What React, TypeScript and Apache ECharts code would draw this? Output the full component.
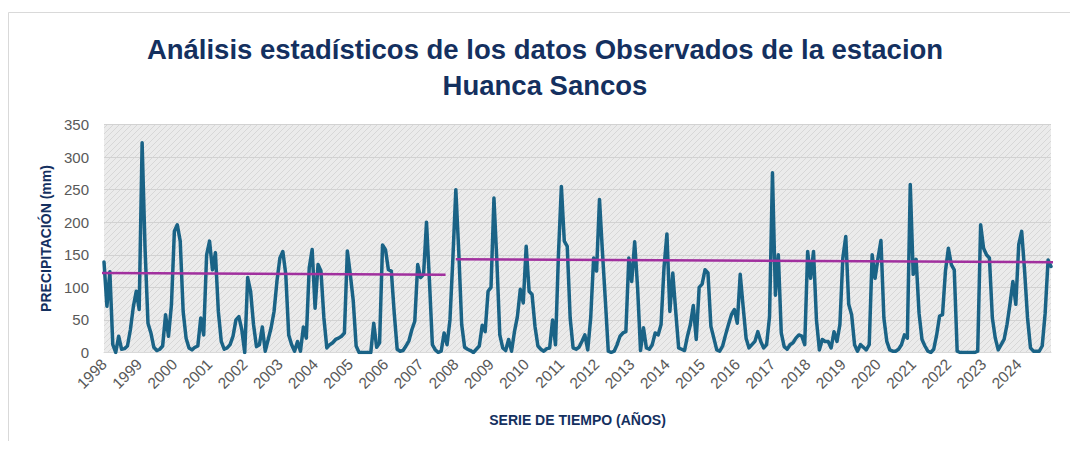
import React, { useEffect, useRef } from "react";
import * as echarts from "echarts";

const years = [
  1998, 1999, 2000, 2001, 2002, 2003, 2004, 2005, 2006, 2007, 2008, 2009, 2010,
  2011, 2012, 2013, 2014, 2015, 2016, 2017, 2018, 2019, 2020, 2021, 2022, 2023, 2024,
];
const months = ["01", "02", "03", "04", "05", "06", "07", "08", "09", "10", "11", "12"];

// Monthly precipitation (mm), Jan 1998 .. Dec 2024
const precipitation = [
  139, 71, 124, 12, 0, 25, 5, 6, 10, 35, 70, 94, // 1998
  66, 322, 160, 45, 30, 8, 3, 5, 10, 58, 25, 73, // 1999
  186, 196, 171, 63, 22, 7, 4, 8, 10, 53, 27, 150, // 2000
  171, 127, 153, 63, 17, 5, 7, 12, 25, 50, 55, 35, // 2001
  0, 115, 94, 43, 9, 12, 39, 2, 20, 38, 63, 110, // 2002
  145, 155, 120, 27, 12, 2, 17, 2, 39, 22, 130, 158, // 2003
  68, 135, 125, 53, 7, 12, 15, 20, 22, 25, 30, 156, // 2004
  120, 80, 10, 0, 0, 0, 0, 0, 45, 8, 15, 165, // 2005
  158, 127, 125, 60, 5, 2, 3, 10, 18, 35, 48, 135, // 2006
  115, 120, 200, 110, 12, 4, 0, 2, 30, 12, 50, 145, // 2007
  250, 155, 43, 8, 5, 3, 0, 5, 10, 42, 32, 94, // 2008
  100, 237, 140, 27, 7, 3, 20, 2, 32, 55, 97, 76, // 2009
  163, 94, 89, 40, 10, 5, 2, 6, 7, 50, 12, 150, // 2010
  255, 171, 163, 53, 7, 5, 8, 17, 27, 4, 53, 145, // 2011
  125, 235, 155, 80, 2, 0, 2, 12, 25, 30, 32, 145, // 2012
  109, 170, 99, 3, 38, 7, 5, 12, 30, 27, 43, 130, // 2013
  182, 63, 122, 63, 7, 5, 3, 25, 43, 72, 20, 100, // 2014
  105, 127, 122, 40, 22, 4, 2, 10, 27, 43, 58, 66, // 2015
  45, 120, 70, 22, 7, 12, 17, 32, 17, 7, 12, 55, // 2016
  276, 88, 150, 30, 9, 5, 12, 15, 22, 27, 25, 12, // 2017
  155, 114, 155, 50, 4, 20, 17, 17, 7, 32, 17, 43, // 2018
  145, 178, 74, 58, 12, 2, 12, 8, 4, 12, 150, 114, // 2019
  145, 172, 53, 17, 4, 2, 2, 5, 12, 27, 22, 258, // 2020
  120, 143, 60, 20, 10, 2, 0, 5, 27, 56, 58, 125, // 2021
  160, 135, 127, 2, 0, 0, 0, 0, 0, 0, 2, 196, // 2022
  160, 150, 145, 53, 22, 4, 12, 20, 43, 74, 109, 74, // 2023
  166, 186, 125, 53, 7, 2, 2, 2, 10, 60, 142, 132, // 2024
];

// Average / trend lines of the two periods (x in month index units)
const meanPeriod1X = [-3, 116.5];
const meanPeriod1Y = [122, 119.5];
const meanPeriod2X = [120, 325.5];
const meanPeriod2Y = [143, 138.5];

const yTicks = { min: 0, max: 350, interval: 50 };

const categories: string[] = [];
years.forEach((y) => months.forEach((m) => categories.push(`${y}-${m}`)));

const NAVY = "#14305f";

function makePattern(): string {
  const c = document.createElement("canvas");
  c.width = 6;
  c.height = 6;
  const ctx = c.getContext("2d");
  if (!ctx) return "";
  ctx.fillStyle = "#ebebeb";
  ctx.fillRect(0, 0, 6, 6);
  ctx.strokeStyle = "#d7d7d7";
  ctx.lineWidth = 1;
  ctx.beginPath();
  ctx.moveTo(-1, 7);
  ctx.lineTo(7, -1);
  ctx.moveTo(-1, 1);
  ctx.lineTo(1, -1);
  ctx.moveTo(5, 7);
  ctx.lineTo(7, 5);
  ctx.stroke();
  return c.toDataURL();
}

export default function App() {
  const ref = useRef<HTMLDivElement>(null);
  useEffect(() => {
    if (!ref.current) return;
    const chart = echarts.init(ref.current, null, { renderer: "svg" });
    const patternSrc = makePattern();
    const bg: any = patternSrc ? { image: patternSrc, repeat: "repeat" } : "#e4e4e4";
    chart.setOption({
      animation: false,
      backgroundColor: "#ffffff",
      title: {
        text: "Análisis estadísticos de los datos Observados de la estacion\nHuanca Sancos",
        left: 532,
        top: 18,
        textAlign: "center",
        textStyle: {
          fontFamily: "Liberation Sans, Arial, sans-serif",
          fontWeight: "bold",
          fontSize: 27.5,
          lineHeight: 36,
          color: NAVY,
        },
      },
      graphic: [
        {
          type: "rect",
          shape: { x: 0.5, y: 4.5, width: 1200, height: 600 },
          style: { fill: "none", stroke: "#d9d9d9", lineWidth: 1 },
          silent: true,
          z: -10,
        },
      ],
      grid: {
        show: true,
        left: 96,
        right: 19,
        top: 116.5,
        bottom: 88.5,
        backgroundColor: bg,
        borderWidth: 0,
      },
      xAxis: [
        {
          type: "category",
          data: categories,
          boundaryGap: false,
          name: "SERIE DE TIEMPO (AÑOS)",
          nameLocation: "middle",
          nameGap: 60,
          nameTextStyle: {
            fontFamily: "Liberation Sans, Arial, sans-serif",
            fontWeight: "bold",
            fontSize: 14,
            color: NAVY,
          },
          axisLine: { show: true, lineStyle: { color: "#d9d9d9", width: 1 } },
          axisTick: { show: false },
          splitLine: { show: false },
          axisLabel: {
            interval: 11,
            rotate: 45,
            margin: 9,
            fontFamily: "Liberation Sans, Arial, sans-serif",
            fontSize: 15.5,
            color: "#595959",
            formatter: (v: string) => v.slice(0, 4),
          },
        },
        {
          type: "value",
          min: 0,
          max: precipitation.length - 1,
          show: false,
          splitLine: { show: false },
        },
      ],
      yAxis: {
        type: "value",
        min: yTicks.min,
        max: yTicks.max,
        interval: yTicks.interval,
        name: "PRECIPITACIÓN (mm)",
        nameLocation: "middle",
        nameGap: 51,
        nameTextStyle: {
          fontFamily: "Liberation Sans, Arial, sans-serif",
          fontWeight: "bold",
          fontSize: 14,
          color: NAVY,
        },
        axisLine: { show: false },
        axisTick: { show: false },
        axisLabel: {
          margin: 15,
          fontFamily: "Liberation Sans, Arial, sans-serif",
          fontSize: 15,
          color: "#595959",
        },
        splitLine: { show: true, lineStyle: { color: "#d2d2d2", width: 1 } },
      },
      series: [
        {
          type: "line",
          name: "Precipitación",
          data: precipitation,
          showSymbol: false,
          symbol: "none",
          lineStyle: { color: "#1a6386", width: 3.5, join: "round", cap: "round" },
          z: 3,
        },
        {
          type: "line",
          name: "Media 1998-2007",
          xAxisIndex: 1,
          data: meanPeriod1X.map((x, i) => [x, meanPeriod1Y[i]]),
          showSymbol: false,
          symbol: "none",
          clip: false,
          lineStyle: { color: "#a1309e", width: 2.5 },
          z: 4,
        },
        {
          type: "line",
          name: "Media 2008-2024",
          xAxisIndex: 1,
          data: meanPeriod2X.map((x, i) => [x, meanPeriod2Y[i]]),
          showSymbol: false,
          symbol: "none",
          clip: false,
          lineStyle: { color: "#a1309e", width: 2.5 },
          z: 4,
        },
      ],
    });
    return () => chart.dispose();
  }, []);
  return <div ref={ref} style={{ width: 1062, height: 433 }} />;
}
